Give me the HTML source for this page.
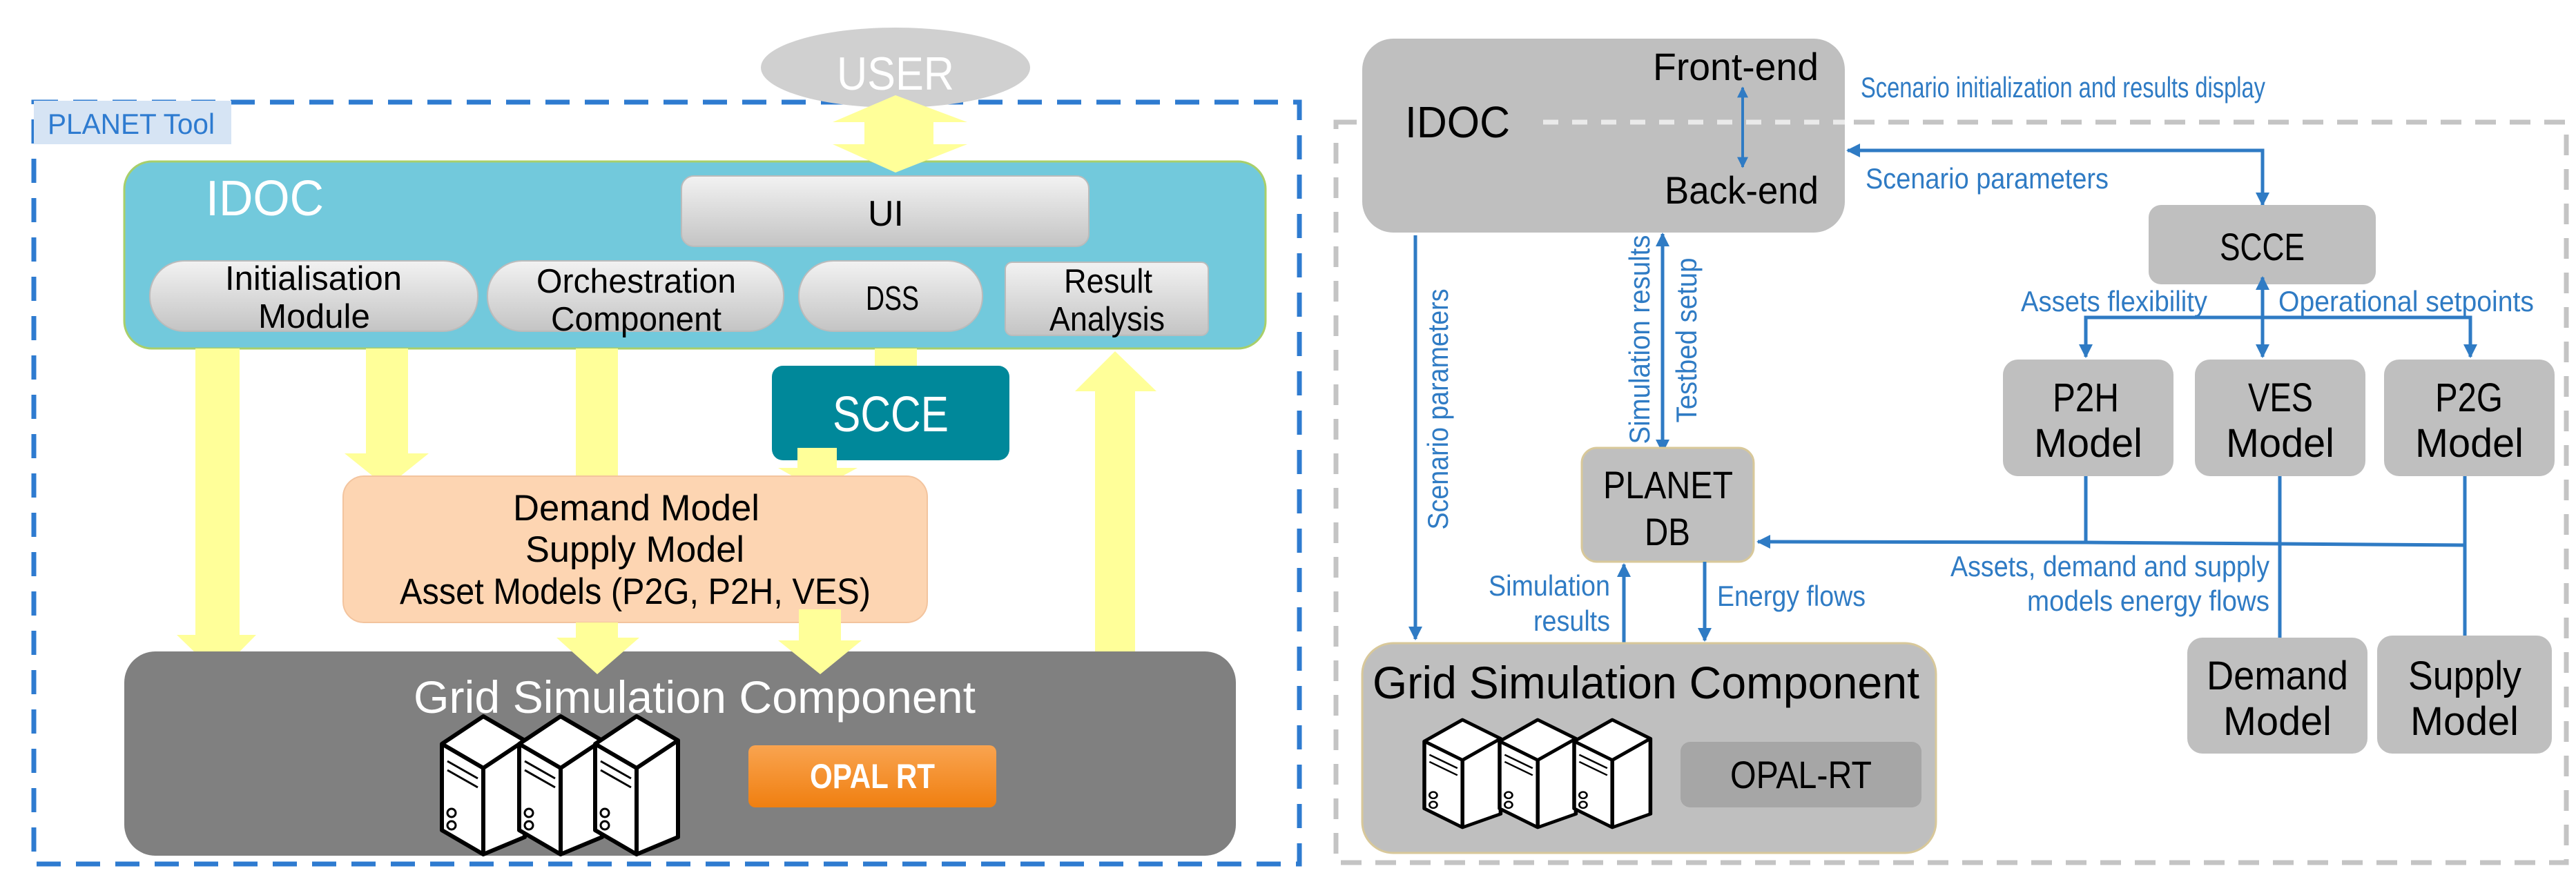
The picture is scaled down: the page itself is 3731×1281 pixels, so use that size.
<!DOCTYPE html>
<html><head><meta charset="utf-8"><style>html,body{margin:0;padding:0;background:#fff}svg{display:block}text{font-family:"Liberation Sans",sans-serif}</style></head><body>
<svg width="3731" height="1281" viewBox="0 0 3731 1281" xmlns="http://www.w3.org/2000/svg">
<defs>
<linearGradient id="gb" x1="0" y1="0" x2="0" y2="1"><stop offset="0" stop-color="#f2f2f2"/><stop offset="1" stop-color="#c4c4c4"/></linearGradient>
<linearGradient id="og" x1="0" y1="0" x2="0" y2="1"><stop offset="0" stop-color="#f9a450"/><stop offset="1" stop-color="#f07f10"/></linearGradient>
<marker id="ah" viewBox="0 0 10 10" refX="9" refY="5" markerWidth="4" markerHeight="4" orient="auto-start-reverse"><path d="M0,0 L10,5 L0,10 z" fill="#2f7bc4"/></marker>
<g id="srv">
<path d="M0,40 L60,0 L120,35 L120,175 L60,200 L0,165 Z" fill="#fff" stroke="#000" stroke-width="6" stroke-linejoin="round"/>
<path d="M0,40 L60,75 L120,35 M60,75 L60,200" fill="none" stroke="#000" stroke-width="6"/>
<path d="M8,65 L52,90 M8,78 L52,103" stroke="#000" stroke-width="3"/>
<circle cx="14" cy="140" r="6" fill="none" stroke="#000" stroke-width="3"/><circle cx="14" cy="158" r="6" fill="none" stroke="#000" stroke-width="3"/>
</g>
</defs>

<!-- LEFT PANEL -->
<rect x="49" y="148" width="1833" height="1104" fill="none" stroke="#2e7bd0" stroke-width="7" stroke-dasharray="35 22"/>
<rect x="49" y="146" width="286" height="63" fill="#d6e4f4"/>
<text x="69" y="194" font-size="42" fill="#2e7bd0" textLength="242" lengthAdjust="spacingAndGlyphs">PLANET Tool</text>

<ellipse cx="1297" cy="98" rx="195" ry="58" fill="#d0d0d0"/>
<text x="1212" y="130" font-size="68" fill="#fff" textLength="170" lengthAdjust="spacingAndGlyphs">USER</text>

<rect x="180" y="234" width="1653" height="271" rx="40" fill="#72c9dc" stroke="#a8cf6a" stroke-width="3"/>
<text x="298" y="312" font-size="72" fill="#fff" textLength="171" lengthAdjust="spacingAndGlyphs">IDOC</text>

<polygon points="1297,138 1401,177 1352,177 1352,209 1401,209 1297,250 1206,209 1252,209 1252,177 1206,177" fill="#ffff99"/>

<rect x="987" y="255" width="590" height="102" rx="18" fill="url(#gb)" stroke="#bbb" stroke-width="2"/>
<text x="1257" y="327" font-size="52" textLength="52" lengthAdjust="spacingAndGlyphs">UI</text>

<rect x="217" y="378" width="475" height="102" rx="50" fill="url(#gb)" stroke="#bbb" stroke-width="2"/>
<text x="326" y="420" font-size="49" textLength="256" lengthAdjust="spacingAndGlyphs">Initialisation</text>
<text x="374" y="475" font-size="49" textLength="162" lengthAdjust="spacingAndGlyphs">Module</text>
<rect x="706" y="378" width="429" height="102" rx="50" fill="url(#gb)" stroke="#bbb" stroke-width="2"/>
<text x="777" y="424" font-size="49" textLength="289" lengthAdjust="spacingAndGlyphs">Orchestration</text>
<text x="798" y="479" font-size="49" textLength="247" lengthAdjust="spacingAndGlyphs">Component</text>
<rect x="1157" y="378" width="266" height="102" rx="50" fill="url(#gb)" stroke="#bbb" stroke-width="2"/>
<text x="1254" y="449" font-size="49" textLength="77" lengthAdjust="spacingAndGlyphs">DSS</text>
<rect x="1456" y="380" width="294" height="106" rx="10" fill="url(#gb)" stroke="#bbb" stroke-width="2"/>
<text x="1541" y="424" font-size="49" textLength="128" lengthAdjust="spacingAndGlyphs">Result</text>
<text x="1520" y="479" font-size="49" textLength="167" lengthAdjust="spacingAndGlyphs">Analysis</text>

<polygon points="283,505 347,505 347,920 371,920 315,977 256,920 283,920" fill="#ffff99"/>
<polygon points="530,505 591,505 591,657 621,657 560,706 499,657 530,657" fill="#ffff99"/>
<rect x="834" y="505" width="61" height="185" fill="#ffff99"/>
<polygon points="1267,505 1328,505 1328,530 1358,530 1297,550 1236,530 1267,530" fill="#ffff99"/>

<rect x="1118" y="530" width="344" height="137" rx="16" fill="#00889a"/>
<text x="1206" y="625" font-size="72" fill="#fff" textLength="168" lengthAdjust="spacingAndGlyphs">SCCE</text>
<polygon points="1155,649 1212,649 1212,678 1242,678 1183,710 1127,678 1155,678" fill="#ffff99"/>

<rect x="497" y="690" width="846" height="212" rx="30" fill="#fdd5b2" stroke="#f3c49e" stroke-width="2"/>
<text x="743" y="754" font-size="53" textLength="357" lengthAdjust="spacingAndGlyphs">Demand Model</text>
<text x="761" y="814" font-size="53" textLength="317" lengthAdjust="spacingAndGlyphs">Supply Model</text>
<text x="579" y="875" font-size="53" textLength="682" lengthAdjust="spacingAndGlyphs">Asset Models (P2G, P2H, VES)</text>

<rect x="180" y="944" width="1610" height="296" rx="45" fill="#808080"/>
<polygon points="834,902 895,902 895,924 926,924 865,977 806,924 834,924" fill="#ffff99"/>
<polygon points="1157,883 1218,883 1218,928 1248,928 1188,977 1127,928 1157,928" fill="#ffff99"/>
<polygon points="1586,944 1644,944 1644,567 1675,567 1615,509 1557,567 1586,567" fill="#ffff99"/>
<text x="599" y="1033" font-size="66" fill="#fff" textLength="814" lengthAdjust="spacingAndGlyphs">Grid Simulation Component</text>
<use href="#srv" x="640" y="1038"/><use href="#srv" x="752" y="1038"/><use href="#srv" x="862" y="1038"/>
<rect x="1084" y="1080" width="359" height="90" rx="10" fill="url(#og)"/>
<text x="1173" y="1142" font-size="50" font-weight="bold" fill="#fff" textLength="181" lengthAdjust="spacingAndGlyphs">OPAL RT</text>

<!-- RIGHT PANEL -->
<rect x="1935" y="177" width="1782" height="1073" fill="none" stroke="#c4c4c4" stroke-width="7" stroke-dasharray="30 20"/>
<rect x="1973" y="56" width="699" height="281" rx="45" fill="#bfbfbf"/>
<line x1="2235" y1="177" x2="2672" y2="177" stroke="#eaeaea" stroke-width="7" stroke-dasharray="22 20"/>
<text x="2035" y="199" font-size="64" textLength="152" lengthAdjust="spacingAndGlyphs">IDOC</text>
<text x="2394" y="116" font-size="56" textLength="240" lengthAdjust="spacingAndGlyphs">Front-end</text>
<text x="2411" y="295" font-size="56" textLength="223" lengthAdjust="spacingAndGlyphs">Back-end</text>
<line x1="2524" y1="127" x2="2524" y2="242" stroke="#2f7bc4" stroke-width="4" marker-start="url(#ah)" marker-end="url(#ah)"/>
<text x="2695" y="141" font-size="42" fill="#2f7bc4" textLength="586" lengthAdjust="spacingAndGlyphs">Scenario initialization and results display</text>

<polyline points="3277,297 3277,218 2676,218" fill="none" stroke="#2f7bc4" stroke-width="5" marker-start="url(#ah)" marker-end="url(#ah)"/>
<text x="2702" y="273" font-size="42" fill="#2f7bc4" textLength="352" lengthAdjust="spacingAndGlyphs">Scenario parameters</text>

<rect x="3112" y="297" width="329" height="115" rx="18" fill="#bfbfbf"/>
<text x="3215" y="377" font-size="56" textLength="123" lengthAdjust="spacingAndGlyphs">SCCE</text>
<line x1="3277" y1="402" x2="3277" y2="517" stroke="#2f7bc4" stroke-width="5" marker-start="url(#ah)" marker-end="url(#ah)"/>
<polyline points="3021,517 3021,460 3578,460 3578,517" fill="none" stroke="#2f7bc4" stroke-width="5" marker-start="url(#ah)" marker-end="url(#ah)"/>
<text x="2927" y="451" font-size="42" fill="#2f7bc4" textLength="270" lengthAdjust="spacingAndGlyphs">Assets flexibility</text>
<text x="3300" y="451" font-size="42" fill="#2f7bc4" textLength="370" lengthAdjust="spacingAndGlyphs">Operational setpoints</text>

<rect x="2901" y="521" width="247" height="169" rx="22" fill="#bfbfbf"/>
<text x="2973" y="596" font-size="58" textLength="96" lengthAdjust="spacingAndGlyphs">P2H</text>
<text x="2946" y="662" font-size="58" textLength="157" lengthAdjust="spacingAndGlyphs">Model</text>
<rect x="3179" y="521" width="247" height="169" rx="22" fill="#bfbfbf"/>
<text x="3256" y="596" font-size="58" textLength="94" lengthAdjust="spacingAndGlyphs">VES</text>
<text x="3224" y="662" font-size="58" textLength="157" lengthAdjust="spacingAndGlyphs">Model</text>
<rect x="3453" y="521" width="247" height="169" rx="22" fill="#bfbfbf"/>
<text x="3527" y="596" font-size="58" textLength="98" lengthAdjust="spacingAndGlyphs">P2G</text>
<text x="3498" y="662" font-size="58" textLength="157" lengthAdjust="spacingAndGlyphs">Model</text>

<line x1="3021" y1="690" x2="3021" y2="787" stroke="#2f7bc4" stroke-width="5"/>
<line x1="3302" y1="690" x2="3302" y2="924" stroke="#2f7bc4" stroke-width="5"/>
<line x1="3570" y1="690" x2="3570" y2="921" stroke="#2f7bc4" stroke-width="5"/>
<polyline points="3570,790 3021,786 2546,785" fill="none" stroke="#2f7bc4" stroke-width="5" marker-end="url(#ah)"/>
<text x="3287" y="835" font-size="42" fill="#2f7bc4" text-anchor="end" textLength="462" lengthAdjust="spacingAndGlyphs">Assets, demand and supply</text>
<text x="3287" y="885" font-size="42" fill="#2f7bc4" text-anchor="end" textLength="351" lengthAdjust="spacingAndGlyphs">models energy flows</text>

<rect x="3168" y="924" width="261" height="168" rx="22" fill="#bfbfbf"/>
<text x="3196" y="999" font-size="58" textLength="205" lengthAdjust="spacingAndGlyphs">Demand</text>
<text x="3220" y="1065" font-size="58" textLength="157" lengthAdjust="spacingAndGlyphs">Model</text>
<rect x="3443" y="921" width="253" height="171" rx="22" fill="#bfbfbf"/>
<text x="3488" y="999" font-size="58" textLength="164" lengthAdjust="spacingAndGlyphs">Supply</text>
<text x="3491" y="1065" font-size="58" textLength="157" lengthAdjust="spacingAndGlyphs">Model</text>

<line x1="2050" y1="341" x2="2050" y2="926" stroke="#2f7bc4" stroke-width="5" marker-end="url(#ah)"/>
<text transform="translate(2097,593) rotate(-90)" font-size="42" fill="#2f7bc4" text-anchor="middle" textLength="349" lengthAdjust="spacingAndGlyphs">Scenario parameters</text>
<line x1="2408" y1="339" x2="2408" y2="655" stroke="#2f7bc4" stroke-width="5" marker-start="url(#ah)" marker-end="url(#ah)"/>
<text transform="translate(2389,492) rotate(-90)" font-size="42" fill="#2f7bc4" text-anchor="middle" textLength="303" lengthAdjust="spacingAndGlyphs">Simulation results</text>
<text transform="translate(2457,493) rotate(-90)" font-size="42" fill="#2f7bc4" text-anchor="middle" textLength="239" lengthAdjust="spacingAndGlyphs">Testbed setup</text>

<rect x="2291" y="649" width="249" height="165" rx="22" fill="#bfbfbf" stroke="#d8c89a" stroke-width="3"/>
<text x="2322" y="722" font-size="56" textLength="188" lengthAdjust="spacingAndGlyphs">PLANET</text>
<text x="2382" y="790" font-size="56" textLength="66" lengthAdjust="spacingAndGlyphs">DB</text>

<line x1="2352" y1="932" x2="2352" y2="818" stroke="#2f7bc4" stroke-width="5" marker-end="url(#ah)"/>
<line x1="2469" y1="814" x2="2469" y2="928" stroke="#2f7bc4" stroke-width="5" marker-end="url(#ah)"/>
<text x="2332" y="863" font-size="42" fill="#2f7bc4" text-anchor="end" textLength="176" lengthAdjust="spacingAndGlyphs">Simulation</text>
<text x="2332" y="914" font-size="42" fill="#2f7bc4" text-anchor="end" textLength="111" lengthAdjust="spacingAndGlyphs">results</text>
<text x="2487" y="878" font-size="42" fill="#2f7bc4" textLength="215" lengthAdjust="spacingAndGlyphs">Energy flows</text>

<rect x="1973" y="932" width="831" height="304" rx="45" fill="#bfbfbf" stroke="#d8c89a" stroke-width="3"/>
<text x="1988" y="1012" font-size="66" textLength="792" lengthAdjust="spacingAndGlyphs">Grid Simulation Component</text>
<use href="#srv" transform="translate(2063,1043) scale(0.92,0.78)"/>
<use href="#srv" transform="translate(2172,1043) scale(0.92,0.78)"/>
<use href="#srv" transform="translate(2280,1043) scale(0.92,0.78)"/>
<rect x="2434" y="1075" width="349" height="95" rx="14" fill="#a6a6a6"/>
<text x="2506" y="1142" font-size="56" textLength="205" lengthAdjust="spacingAndGlyphs">OPAL-RT</text>
</svg>
</body></html>
